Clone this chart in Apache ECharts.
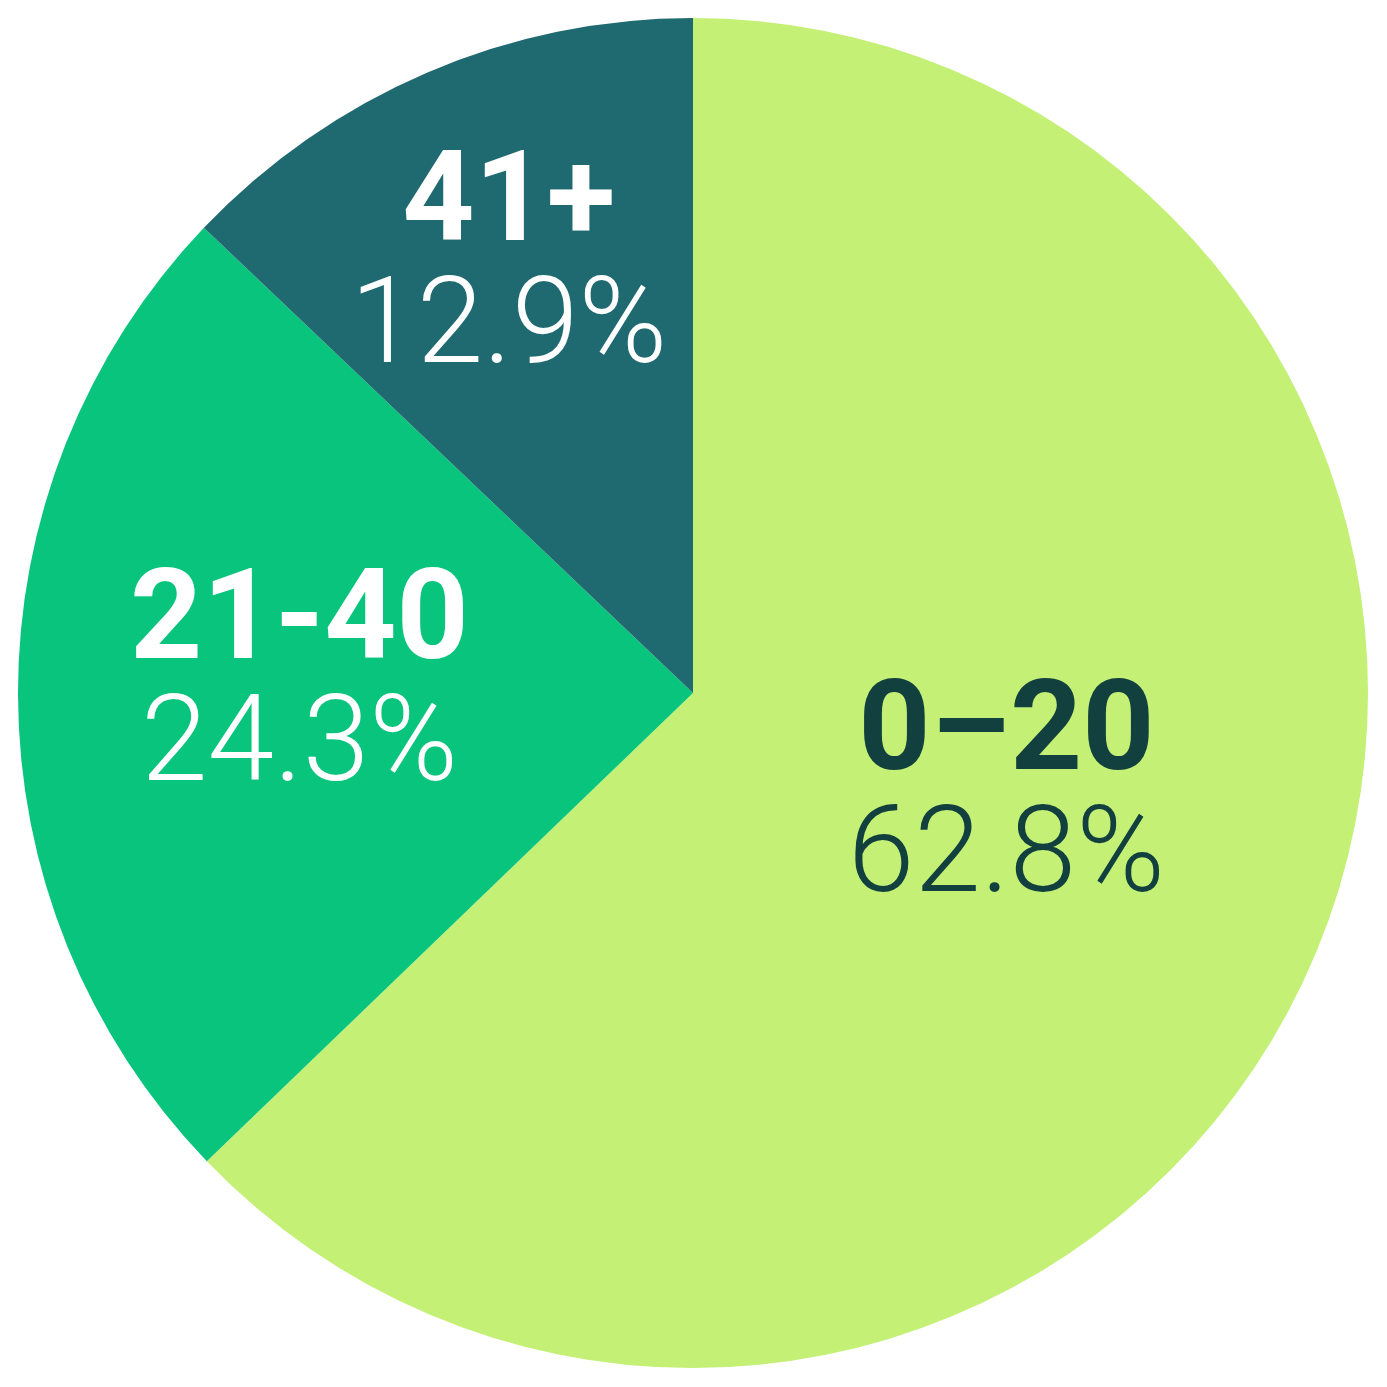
<!DOCTYPE html>
<html>
<head>
<meta charset="utf-8">
<script src="https://cdn.jsdelivr.net/npm/echarts@6/dist/echarts.min.js"></script>
<style>html,body{margin:0;padding:0;background:#fff;}#c{width:1387px;height:1387px;}</style>
</head>
<body>
<div id="c"></div>
<script>
const categories = ['0–20', '21-40', '41+'];
const shares = [62.8, 24.3, 12.9];
const sliceColors = ['#C3F075', '#08C47C', '#1F6A70'];
const labelColors = ['#12403F', '#FFFFFF', '#FFFFFF'];
const labelOffsets = [[0, -27], [-53, -6], [-50, -110]];

const chart = echarts.init(document.getElementById('c'), null, {renderer: 'canvas'});
chart.setOption({
  animation: false,
  backgroundColor: '#FFFFFF',
  series: [{
    type: 'pie',
    center: [693, 693],
    radius: [0, 675],
    startAngle: 90,
    clockwise: true,
    avoidLabelOverlap: false,
    labelLine: {show: false},
    data: categories.map((name, i) => ({
      name: name,
      value: shares[i],
      itemStyle: {color: sliceColors[i]},
      label: {
        show: true,
        position: 'inside',
        offset: labelOffsets[i],
        formatter: p => '{b|' + p.name + '}\n{p|' + p.value.toFixed(1) + '%}',
        rich: {
          b: {fontFamily: 'Roboto', fontWeight: 'bold', fontSize: 126, lineHeight: 124, color: labelColors[i], align: 'center'},
          p: {fontFamily: 'Roboto', fontWeight: 300, fontSize: 120, lineHeight: 124, color: labelColors[i], align: 'center'}
        }
      }
    }))
  }]
});
</script>
</body>
</html>
